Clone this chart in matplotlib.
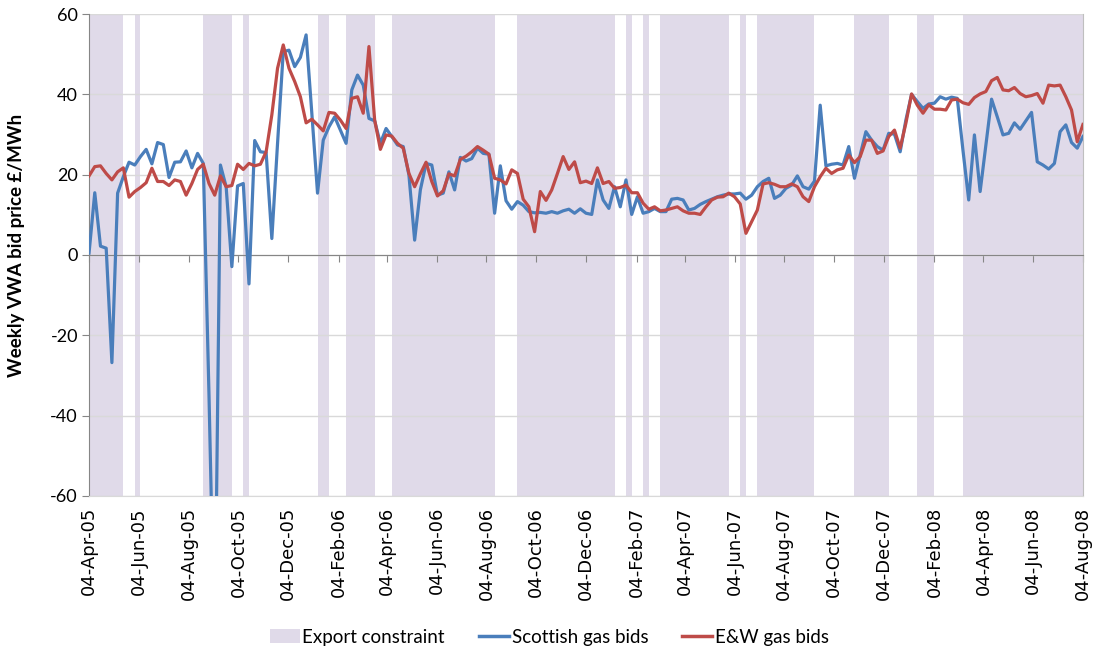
import matplotlib

matplotlib.use("Agg")

import matplotlib.dates as mdates
import matplotlib.pyplot as plt
import pandas as pd
from matplotlib.lines import Line2D
from matplotlib.patches import Patch

# weekly VWA bid prices, GBP/MWh, one value per week from 04-Apr-05
scottish = [
    0.5, 15.5, 2.2, 1.7, -26.8, 15.4, 19.5, 23.1, 22.4, 24.5,
    26.3, 22.7, 28.0, 27.5, 19.3, 23.1, 23.2, 25.9, 21.7, 25.3,
    22.8, -35.0, -100.0, 22.4, 17.0, -2.9, 17.2, 17.8, -7.2, 28.5,
    25.7, 25.5, 4.1, 27.8, 50.6, 51.0, 46.9, 49.2, 54.8, 35.3,
    15.4, 28.6, 31.9, 34.4, 31.1, 27.8, 41.1, 44.8, 42.3, 34.0,
    33.4, 27.8, 31.5, 29.5, 27.4, 27.0, 19.9, 3.7, 16.2, 22.8,
    22.4, 14.9, 15.4, 20.7, 16.2, 24.3, 23.4, 24.0, 26.6, 25.3,
    25.1, 10.4, 22.2, 13.5, 11.4, 13.3, 12.4, 10.8, 10.5, 10.6,
    10.4, 10.8, 10.4, 11.0, 11.4, 10.4, 11.5, 10.4, 10.1, 18.7,
    13.7, 11.6, 17.0, 12.0, 18.7, 10.1, 14.5, 10.4, 10.8, 11.6,
    10.8, 10.8, 13.9, 14.1, 13.7, 11.2, 11.6, 12.6, 13.3, 13.9,
    14.5, 14.9, 15.2, 15.2, 15.4, 13.9, 14.9, 17.0, 18.3, 19.1,
    14.1, 14.9, 16.6, 17.4, 19.7, 17.0, 16.4, 18.4, 37.3, 22.2,
    22.6, 22.8, 22.4, 27.0, 19.1, 24.9, 30.7, 28.6, 27.0, 26.1,
    30.3, 30.1, 25.7, 33.6, 40.0, 38.2, 36.5, 37.6, 37.8, 39.4,
    38.8, 39.3, 39.0, 26.0, 13.7, 29.9, 15.8, 27.3, 38.8, 34.4,
    29.9, 30.3, 32.9, 31.3, 33.4, 35.5, 23.2, 22.4, 21.4, 22.8,
    30.7, 32.4, 28.0, 26.6, 29.5,
]
ew = [
    19.7, 22.0, 22.2, 20.3, 18.7, 20.7, 21.7, 14.4, 15.8, 16.8,
    18.0, 21.6, 18.3, 18.3, 17.3, 18.7, 18.3, 14.9, 17.8, 21.3,
    22.6, 17.8, 14.9, 19.7, 17.0, 17.3, 22.6, 21.3, 22.8, 22.2,
    22.6, 25.7, 34.9, 46.5, 52.3, 46.5, 43.2, 39.4, 32.9, 33.8,
    32.4, 30.9, 35.5, 35.3, 33.6, 31.5, 39.0, 39.4, 35.3, 51.9,
    33.6, 26.3, 29.9, 29.6, 27.8, 26.6, 20.3, 17.0, 20.2, 23.1,
    18.3, 14.7, 16.0, 20.2, 19.7, 23.8, 24.6, 25.7, 27.0, 26.1,
    25.1, 19.1, 18.7, 17.7, 21.2, 20.3, 13.9, 12.0, 5.8, 15.8,
    13.6, 16.2, 20.3, 24.5, 21.3, 23.2, 18.0, 18.4, 17.8, 21.7,
    17.8, 18.3, 16.6, 16.8, 17.4, 15.5, 15.5, 12.9, 11.4, 12.0,
    11.0, 11.2, 11.6, 12.0, 11.0, 10.4, 10.4, 10.1, 12.0, 13.7,
    14.4, 14.5, 15.4, 14.5, 12.7, 5.4, 8.3, 11.2, 17.7, 18.0,
    17.6, 17.0, 17.0, 17.7, 17.0, 14.5, 13.3, 17.0, 19.5, 21.6,
    20.3, 21.2, 21.6, 24.9, 23.0, 24.5, 28.6, 28.6, 25.3, 25.9,
    29.5, 31.1, 26.6, 32.8, 40.1, 37.3, 35.3, 37.4, 36.3, 36.3,
    36.1, 38.6, 38.8, 37.9, 37.5, 39.2, 40.1, 40.7, 43.4, 44.2,
    41.1, 40.9, 41.7, 40.2, 39.4, 39.7, 40.2, 37.8, 42.3, 42.1,
    42.3, 39.4, 36.1, 28.2, 32.5,
]

# export constraint periods: first week and length in weeks
constraint_start = [
    "2005-04-04", "2005-05-30", "2005-08-22", "2005-10-10", "2006-01-09",
    "2006-02-13", "2006-04-10", "2006-09-11", "2007-01-22", "2007-02-12",
    "2007-03-05", "2007-06-11", "2007-07-02", "2007-10-29", "2008-01-14",
    "2008-03-10",
]
constraint_weeks = [6, 1, 5, 1, 2, 5, 18, 17, 1, 1, 12, 1, 10, 6, 3, 22]

first_week = "2005-04-04"
last_week = "2008-08-04"

SHADE = "#E0DAE9"
BLUE = "#4A7EBB"
RED = "#BE4B48"
AXIS = "#868686"
GRID = "#D9D9D9"
NARROW = ["Lato", "DejaVu Sans"]

plt.rcParams["axes.unicode_minus"] = False

weeks = pd.date_range(first_week, periods=len(scottish), freq="7D")
starts = pd.to_datetime(constraint_start)

fig = plt.figure(figsize=(10.94, 6.52), dpi=100)
ax = fig.add_axes([0.0814, 0.2393, 0.9085, 0.7392])

ax.bar(starts, [120] * len(starts), bottom=-60,
       width=[7 * w for w in constraint_weeks], align="edge",
       color=SHADE, linewidth=0, zorder=1)
ax.plot(weeks, scottish, color=BLUE, lw=2.3, zorder=3, solid_joinstyle="round")
ax.plot(weeks, ew, color=RED, lw=2.3, zorder=3, solid_joinstyle="round")

ax.set_xlim(pd.Timestamp(first_week), pd.Timestamp(last_week))
ax.set_ylim(-60, 60)
ax.set_yticks(range(-60, 61, 20))
ax.set_axisbelow("line")
ax.yaxis.grid(True, color=GRID, lw=1)

ticks = pd.date_range(first_week, last_week, freq=pd.DateOffset(months=2))
ax.set_xticks(ticks)
ax.xaxis.set_major_formatter(mdates.DateFormatter("%d-%b-%y"))

# category axis crosses at zero, labels sit low
ax.spines["top"].set_position(("data", 0))
ax.spines["top"].set_color(AXIS)
ax.spines["left"].set_color(AXIS)
ax.spines["bottom"].set_color(GRID)
ax.spines["right"].set_color("#BFBFBF")
ax.tick_params(axis="x", top=True, bottom=False, labeltop=False,
               labelbottom=True, direction="in", length=5, color=AXIS,
               labelrotation=90, labelsize=13, pad=8)
ax.tick_params(axis="y", direction="out", length=5, color=AXIS, pad=3)
for lab in ax.get_yticklabels():
    lab.set_family(NARROW)
    lab.set_fontsize(13)

ax.set_ylabel("Weekly VWA bid price £/MWh", family=NARROW, fontsize=13.5,
              fontweight="bold")
ax.yaxis.set_label_coords(-0.064, 0.52)

handles = [
    Patch(facecolor=SHADE, edgecolor="none"),
    Line2D([], [], color=BLUE, lw=2.5),
    Line2D([], [], color=RED, lw=2.5),
]
fig.legend(handles, ["Export constraint", "Scottish gas bids", "E&W gas bids"],
           loc="center", bbox_to_anchor=(0.502, 0.023), ncol=3, frameon=False,
           prop={"family": NARROW, "size": 13.5}, handlelength=1.6,
           handletextpad=0.15, columnspacing=1.8)

fig.savefig("out.png", dpi=100)
plt.close(fig)
